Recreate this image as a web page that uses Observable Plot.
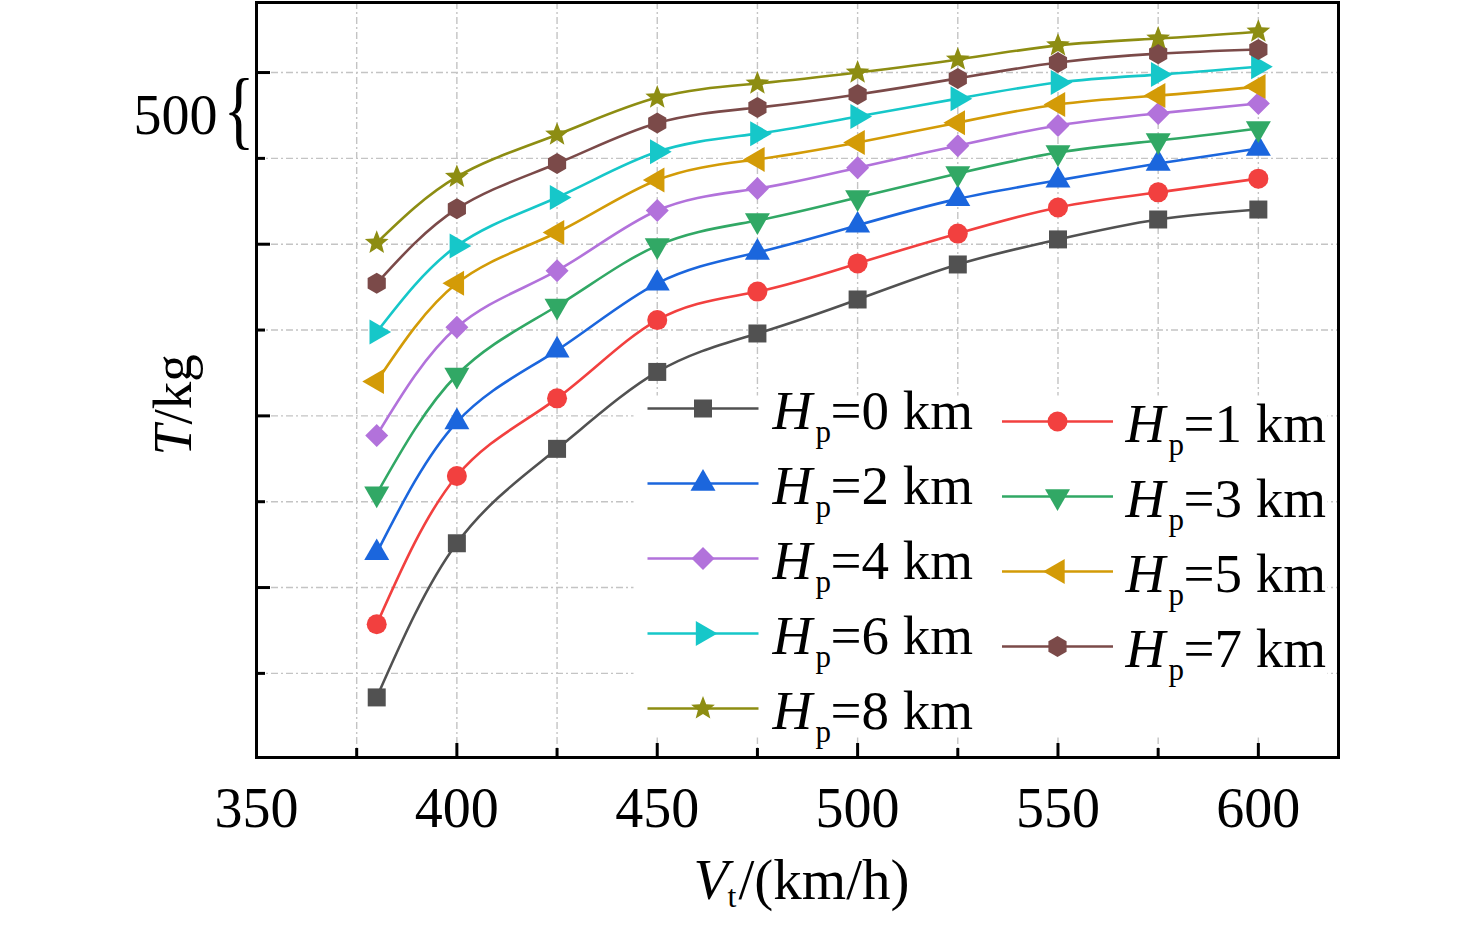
<!DOCTYPE html>
<html>
<head>
<meta charset="utf-8">
<script src="https://cdn.jsdelivr.net/npm/d3@7"></script>
<script src="https://cdn.jsdelivr.net/npm/@observablehq/plot@0.6"></script>
<style>
  html, body { margin: 0; padding: 0; background: #ffffff; }
  #chart svg { display: block; }
</style>
</head>
<body>
<div id="chart"></div>
<script>
// ---------------- data ----------------
const speeds = [380, 400, 425, 450, 475, 500, 525, 550, 575, 600];   // V_t (km/h)
const altitudes = [0, 1, 2, 3, 4, 5, 6, 7, 8];                        // H_p (km)

const T_Hp0 = [318.0, 362.9, 390.4, 412.8, 424.0, 433.9, 444.1, 451.4, 457.2, 460.1];
const T_Hp1 = [339.3, 382.5, 405.1, 427.9, 436.2, 444.4, 453.1, 460.7, 465.1, 469.1];
const T_Hp2 = [360.1, 398.2, 419.1, 438.6, 447.6, 455.5, 463.2, 468.6, 473.5, 477.9];
const T_Hp3 = [377.3, 411.9, 432.0, 449.6, 456.9, 463.6, 470.6, 476.7, 480.2, 483.7];
const T_Hp4 = [394.3, 425.8, 442.3, 459.8, 466.2, 472.3, 478.7, 484.6, 488.1, 491.0];
const T_Hp5 = [410.0, 438.6, 453.4, 468.7, 474.7, 479.6, 485.4, 490.7, 493.3, 495.9];
const T_Hp6 = [424.4, 449.5, 463.6, 476.9, 482.2, 487.2, 492.4, 497.1, 499.4, 501.7];
const T_Hp7 = [438.6, 460.3, 473.5, 485.3, 489.8, 493.6, 498.3, 502.9, 505.5, 506.7];
const T_Hp8 = [450.4, 469.6, 481.9, 492.7, 496.8, 500.0, 503.8, 507.9, 509.9, 511.9];

const thrustSeries = [T_Hp0, T_Hp1, T_Hp2, T_Hp3, T_Hp4, T_Hp5, T_Hp6, T_Hp7, T_Hp8];

const xTickLabels = [350, 400, 450, 500, 550, 600];
const xTicksMinor = [375, 425, 475, 525, 575];
const xGridValues = [375, 400, 425, 450, 475, 500, 525, 550, 575, 600];
const yTicksMajor = [350, 400, 450, 500];
const yTicksMinor = [325, 375, 425, 475];
const yGridValues = [325, 350, 375, 400, 425, 450, 475, 500];
const yLabelValue = "500";

const xTitleMain = "V", xTitleSub = "t", xTitleRest = "/(km/h)";
const yTitleMain = "T", yTitleRest = "/kg";

// ---------------- styles ----------------
const seriesColors = ["#515151", "#f2403f", "#1b66dd", "#31a865", "#b272db", "#d39b07", "#16c7c9", "#7b4a49", "#8d8d12"];

function polygon(points) {
  return { draw(ctx) {
    ctx.moveTo(points[0][0], points[0][1]);
    for (let i = 1; i < points.length; i++) ctx.lineTo(points[i][0], points[i][1]);
    ctx.closePath();
  }};
}
function triangle(dirDeg, side) {
  const R = side / Math.sqrt(3);
  const pts = [0, 1, 2].map(k => {
    const a = (-90 + dirDeg + k * 120) * Math.PI / 180;
    return [R * Math.cos(a), R * Math.sin(a)];
  });
  return polygon(pts);
}
function regular(n, R, startDeg) {
  return polygon(d3.range(n).map(k => {
    const a = (startDeg + k * 360 / n) * Math.PI / 180;
    return [R * Math.cos(a), R * Math.sin(a)];
  }));
}
function star(R, r) {
  return polygon(d3.range(10).map(k => {
    const a = (-90 + k * 36) * Math.PI / 180, rr = k % 2 ? r : R;
    return [rr * Math.cos(a), rr * Math.sin(a)];
  }));
}
const circleSym = { draw(ctx) { ctx.moveTo(10, 0); ctx.arc(0, 0, 10, 0, 2 * Math.PI); ctx.closePath(); } };
const squareSym = polygon([[-9, -9], [9, -9], [9, 9], [-9, 9]]);
const diamondSym = polygon([[0, -11.5], [11.5, 0], [0, 11.5], [-11.5, 0]]);

const seriesSymbols = [
  squareSym,            // 0 km
  circleSym,            // 1 km
  triangle(0, 25),      // 2 km
  triangle(180, 25),    // 3 km
  diamondSym,           // 4 km
  triangle(270, 25),    // 5 km
  triangle(90, 25),     // 6 km
  regular(6, 10.5, -90),// 7 km
  star(12.5, 5.4)       // 8 km
];
const legendLineSym = { draw(ctx) { ctx.moveTo(-55.5, 0); ctx.lineTo(55.5, 0); } };

// ---------------- layout ----------------
const W = 1476, H = 927;
const ML = 256, MR = 138, MT = 2, MB = 170;
const FW = W - ML - MR, FH = H - MT - MB;
const FONT = "'Liberation Serif','Times New Roman',Times,serif";

// text placed by absolute page position (relative to frame top-left)
function label(str, px, py, opts = {}) {
  return Plot.text([str], {
    frameAnchor: "top-left", dx: px - ML, dy: py - MT,
    lineAnchor: "bottom", textAnchor: "start", fontSize: 55, fill: "black", ...opts
  });
}

// ---------------- marks ----------------
const marks = [];
const gridStyle = { stroke: "#c4c4c4", strokeOpacity: 1, strokeWidth: 1.4, strokeDasharray: "7,3,2,3" };
marks.push(Plot.gridX(xGridValues, gridStyle));
marks.push(Plot.gridY(yGridValues, gridStyle));

// legend background
marks.push(Plot.frame({ fill: "white", stroke: "none", insetLeft: 377, insetTop: 393, insetRight: 11, insetBottom: 20 }));

// data
altitudes.forEach((h, i) => {
  const rows = speeds.map((v, j) => ({ v, t: thrustSeries[i][j] }));
  marks.push(Plot.line(rows, { x: "v", y: "t", stroke: seriesColors[i], strokeWidth: 2.6, curve: "natural" }));
});
altitudes.forEach((h, i) => {
  const rows = speeds.map((v, j) => ({ v, t: thrustSeries[i][j] }));
  marks.push(Plot.dot(rows, { x: "v", y: "t", symbol: seriesSymbols[i], fill: seriesColors[i], stroke: "none", r: 10 }));
});

// inward ticks
marks.push(Plot.ruleX(xTickLabels, { x: d => d, insetTop: FH - 14, stroke: "black", strokeWidth: 3 }));
marks.push(Plot.ruleX(xTicksMinor, { x: d => d, insetTop: FH - 9, stroke: "black", strokeWidth: 3 }));
marks.push(Plot.ruleY(yTicksMajor, { y: d => d, insetRight: FW - 14, stroke: "black", strokeWidth: 3 }));
marks.push(Plot.ruleY(yTicksMinor, { y: d => d, insetRight: FW - 9, stroke: "black", strokeWidth: 3 }));

// frame
marks.push(Plot.frame({ stroke: "black", strokeWidth: 3 }));

// x tick labels
marks.push(Plot.text(xTickLabels, {
  x: d => d, frameAnchor: "bottom", dy: 69, lineAnchor: "bottom",
  text: d => String(d), fontSize: 56, fill: "black"
}));

// y "500 {" annotation
marks.push(label(yLabelValue, 217, 133, { textAnchor: "end", fontSize: 56 }));
marks.push(label("{", 238.5, 137, { textAnchor: "middle", fontSize: 86 }));

// axis titles
marks.push(label(xTitleMain, 693, 898, { fontSize: 57, fontStyle: "italic" }));
marks.push(label(xTitleSub, 727, 906, { fontSize: 32 }));
marks.push(label(xTitleRest, 738, 898, { fontSize: 57 }));
marks.push(label(yTitleMain, 190, 455, { fontSize: 55, fontStyle: "italic", rotate: -90 }));
marks.push(label(yTitleRest, 190, 424, { fontSize: 55, rotate: -90 }));

// legend
const legendLeft = [0, 2, 4, 6, 8], legendRight = [1, 3, 5, 7];
function legendEntry(i, lineCx, rowY, textX) {
  marks.push(Plot.dot([i], { frameAnchor: "top-left", dx: lineCx - ML, dy: rowY - MT, symbol: legendLineSym, stroke: seriesColors[i], strokeWidth: 2.5, fill: "none" }));
  marks.push(Plot.dot([i], { frameAnchor: "top-left", dx: lineCx - ML, dy: rowY - MT, symbol: seriesSymbols[i], fill: seriesColors[i], stroke: "none" }));
  marks.push(label("H", textX, rowY + 20, { fontStyle: "italic" }));
  marks.push(label("p", textX + 43, rowY + 33, { fontSize: 31 }));
  marks.push(label(`=${altitudes[i]} km`, textX + 58, rowY + 20));
}
legendLeft.forEach((i, k) => legendEntry(i, 702.5, 408 + k * 75, 772));
legendRight.forEach((i, k) => legendEntry(i, 1057, 421 + k * 75, 1125));

const chart = Plot.plot({
  width: W, height: H,
  marginLeft: ML, marginRight: MR, marginTop: MT, marginBottom: MB,
  x: { domain: [350, 620], axis: null },
  y: { domain: [300.5, 520.4], axis: null },
  style: { fontFamily: FONT, background: "white", color: "black" },
  marks
});

// narrow the brace glyph
d3.select(chart).selectAll("text").filter(function () { return this.textContent === "{"; })
  .each(function () {
    const t = this.getAttribute("transform") || "";
    this.setAttribute("transform", (t + " scale(0.75,1)").trim());
  });

document.getElementById("chart").appendChild(chart);
</script>
</body>
</html>
